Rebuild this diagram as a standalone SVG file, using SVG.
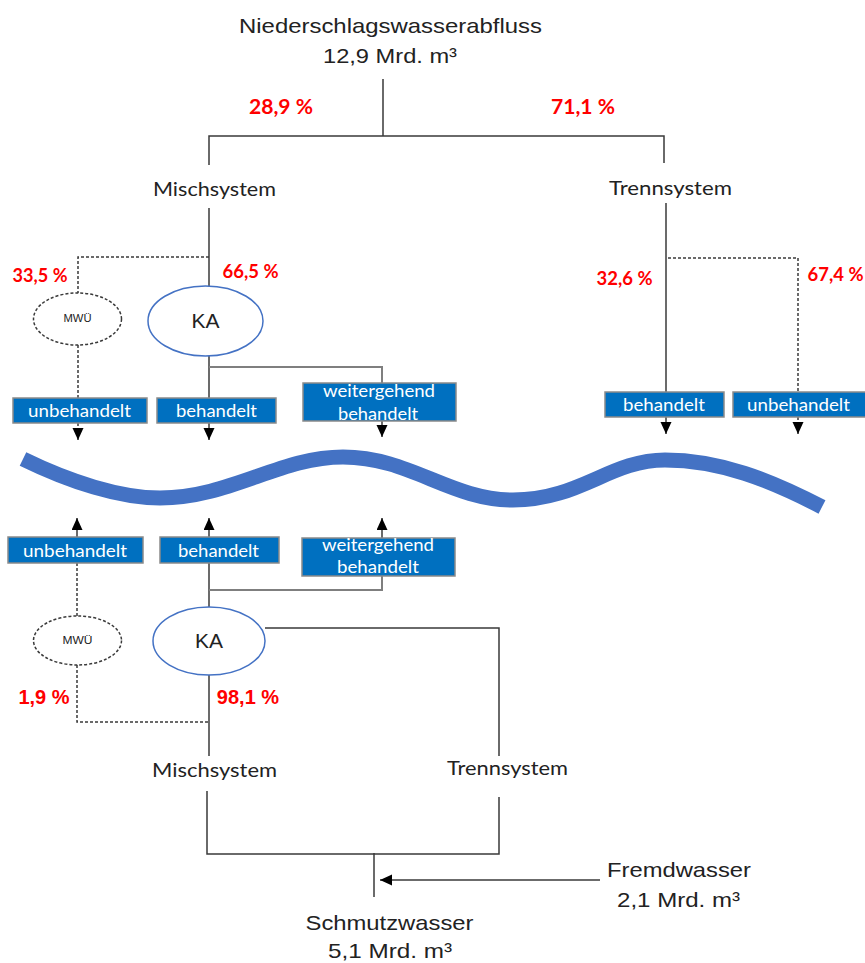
<svg xmlns="http://www.w3.org/2000/svg" width="865" height="963" viewBox="0 0 865 963">
<style>
.ln{stroke:#3a3a3a;stroke-width:1.5;fill:none}
.ds{stroke:#3a3a3a;stroke-width:1.5;fill:none;stroke-dasharray:3 2}
.gr{stroke:#7f7f7f;stroke-width:2;fill:none}
.box{fill:#0070C0;stroke:#8a8a8a;stroke-width:1.5}
.bt{font-family:Lato,"Liberation Sans",sans-serif;font-size:17px;fill:#ffffff;text-anchor:middle}
.ar{font-family:"Liberation Sans",Arial,sans-serif;fill:#222;text-anchor:middle}
.ca{font-family:Lato,"Liberation Sans",sans-serif;fill:#222;text-anchor:middle;font-size:19px}
.pc{font-family:Lato,"Liberation Sans",sans-serif;font-weight:bold;fill:#FF0000;text-anchor:middle}
.pa{font-family:"Liberation Sans",Arial,sans-serif;font-weight:bold;fill:#FF0000;text-anchor:middle;font-size:20px}
</style>
<defs>
<marker id="arr" markerUnits="userSpaceOnUse" markerWidth="13" markerHeight="12" refX="12" refY="5.5" orient="auto">
<path d="M0,0 L12,5.5 L0,11 Z" fill="#000"/>
</marker>
</defs>
<rect width="865" height="963" fill="#ffffff"/>

<path id="river" d="M23,459 C70,482 120,498 160,498 C230,498 280,457 343,457 C410,457 450,500 513,500 C580,500 610,460 665,460 C720,460 770,480 822,507" fill="none" stroke="#4472C4" stroke-width="15"/>

<g id="connectors">
<path class="ln" d="M383,79 V136 M209,165 V136 H664 V163"/>
<path class="ln" d="M209,208 V286"/>
<path class="ds" d="M209,257 H78 V293"/>
<path class="ds" d="M78,345 V398"/>
<path class="ln" d="M209,356 V398"/>
<path class="gr" d="M209,367 H382 V383"/>
<path class="ds" d="M78,423 V430"/>
<path class="ln" d="M78,428 V440" marker-end="url(#arr)"/>
<path class="ln" d="M209,423 V440" marker-end="url(#arr)"/>
<path class="ln" d="M382,421 V437" marker-end="url(#arr)"/>
<path class="ln" d="M666,203 V392"/>
<path class="ds" d="M668,258 H798 V392"/>
<path class="ln" d="M666,417 V434" marker-end="url(#arr)"/>
<path class="ds" d="M798,417 V424"/>
<path class="ln" d="M798,422 V434" marker-end="url(#arr)"/>
<path class="ln" d="M77,537 V518" marker-end="url(#arr)"/>
<path class="ln" d="M209,537 V518" marker-end="url(#arr)"/>
<path class="ln" d="M382,538 V518" marker-end="url(#arr)"/>
<path class="ds" d="M77,563 V616"/>
<path class="ln" d="M209,563 V607"/>
<path class="gr" d="M209,590 H382 V576"/>
<path class="ds" d="M77,665 V722 H209"/>
<path class="ln" d="M209,675 V756"/>
<path class="ln" d="M265,628 H499 V756"/>
<path class="ln" d="M207,791 V854 H499 V797"/>
<path class="ln" d="M374,853 V897"/>
<path class="ln" d="M600,880 H380" marker-end="url(#arr)"/>
</g>

<g id="n-top">
<text class="ar" x="390.5" y="33" font-size="21" textLength="303" lengthAdjust="spacingAndGlyphs">Niederschlagswasserabfluss</text>
<text class="ar" x="390" y="63" font-size="21" textLength="134" lengthAdjust="spacingAndGlyphs">12,9 Mrd. m³</text>
</g>
<g id="p-top">
<text class="pc" x="281" y="114" font-size="21" textLength="64" lengthAdjust="spacingAndGlyphs">28,9 %</text>
<text class="pc" x="583" y="114" font-size="21" textLength="64" lengthAdjust="spacingAndGlyphs">71,1 %</text>
</g>
<g id="n-misch-top"><text class="ca" x="214.5" y="196" textLength="123" lengthAdjust="spacingAndGlyphs">Mischsystem</text></g>
<g id="n-trenn-top"><text class="ca" x="670.5" y="195" textLength="123" lengthAdjust="spacingAndGlyphs">Trennsystem</text></g>

<g id="p-upper">
<text class="pc" x="40" y="282" font-size="18" textLength="55" lengthAdjust="spacingAndGlyphs">33,5 %</text>
<text class="pc" x="250.5" y="278" font-size="18" textLength="56" lengthAdjust="spacingAndGlyphs">66,5 %</text>
<text class="pc" x="624.5" y="285" font-size="18" textLength="56" lengthAdjust="spacingAndGlyphs">32,6 %</text>
<text class="pc" x="835.5" y="281" font-size="18" textLength="56" lengthAdjust="spacingAndGlyphs">67,4 %</text>
</g>

<g id="n-mwu-top">
<ellipse cx="77.5" cy="319" rx="44" ry="26" fill="#fff" stroke="#3a3a3a" stroke-width="1.5" stroke-dasharray="3 2"/>
<text class="ar" x="77.5" y="322" font-size="10" textLength="28" lengthAdjust="spacingAndGlyphs">MWÜ</text>
</g>
<g id="n-ka-top">
<ellipse cx="205.5" cy="321" rx="57.5" ry="35" fill="#fff" stroke="#4472C4" stroke-width="1.5"/>
<text class="ar" x="205.5" y="328" font-size="21">KA</text>
</g>

<g id="b-unb-ul"><rect class="box" x="13" y="398" width="134" height="25"/><text class="bt" x="79.5" y="417" textLength="103" lengthAdjust="spacingAndGlyphs">unbehandelt</text></g>
<g id="b-beh-ul"><rect class="box" x="157" y="398" width="119" height="25"/><text class="bt" x="216.5" y="417" textLength="81" lengthAdjust="spacingAndGlyphs">behandelt</text></g>
<g id="b-wb-ul"><rect class="box" x="303" y="383" width="153" height="38"/><text class="bt" x="379" y="397" textLength="112" lengthAdjust="spacingAndGlyphs">weitergehend</text><text class="bt" x="378" y="420" textLength="80" lengthAdjust="spacingAndGlyphs">behandelt</text></g>
<g id="b-beh-ur"><rect class="box" x="605" y="392" width="119" height="25"/><text class="bt" x="664" y="411" textLength="82" lengthAdjust="spacingAndGlyphs">behandelt</text></g>
<g id="b-unb-ur"><rect class="box" x="733" y="392" width="134" height="25"/><text class="bt" x="798.5" y="411" textLength="103" lengthAdjust="spacingAndGlyphs">unbehandelt</text></g>

<g id="b-unb-ll"><rect class="box" x="8" y="537" width="135" height="26"/><text class="bt" x="75" y="557" textLength="104" lengthAdjust="spacingAndGlyphs">unbehandelt</text></g>
<g id="b-beh-ll"><rect class="box" x="160" y="537" width="119" height="26"/><text class="bt" x="218.5" y="557" textLength="81" lengthAdjust="spacingAndGlyphs">behandelt</text></g>
<g id="b-wb-ll"><rect class="box" x="302" y="538" width="153" height="38"/><text class="bt" x="378" y="551" textLength="112" lengthAdjust="spacingAndGlyphs">weitergehend</text><text class="bt" x="378" y="573" textLength="82" lengthAdjust="spacingAndGlyphs">behandelt</text></g>

<g id="n-mwu-bot">
<ellipse cx="77.5" cy="640.5" rx="44" ry="24.5" fill="#fff" stroke="#3a3a3a" stroke-width="1.5" stroke-dasharray="3 2"/>
<text class="ar" x="77.5" y="644" font-size="10" textLength="30" lengthAdjust="spacingAndGlyphs">MWÜ</text>
</g>
<g id="n-ka-bot">
<ellipse cx="209" cy="641" rx="56" ry="34" fill="#fff" stroke="#4472C4" stroke-width="1.5"/>
<text class="ar" x="209" y="648" font-size="21">KA</text>
</g>

<g id="p-lower">
<text class="pa" x="44" y="704">1,9 %</text>
<text class="pa" x="248" y="704">98,1 %</text>
</g>

<g id="n-misch-bot"><text class="ca" x="214.5" y="777" textLength="125" lengthAdjust="spacingAndGlyphs">Mischsystem</text></g>
<g id="n-trenn-bot"><text class="ca" x="507.5" y="775" textLength="121" lengthAdjust="spacingAndGlyphs">Trennsystem</text></g>

<g id="n-fremd">
<text class="ar" x="679" y="877" font-size="21" textLength="144" lengthAdjust="spacingAndGlyphs">Fremdwasser</text>
<text class="ar" x="678.5" y="907" font-size="21" textLength="123" lengthAdjust="spacingAndGlyphs">2,1 Mrd. m³</text>
</g>
<g id="n-schmutz">
<text class="ar" x="389.5" y="930" font-size="21" textLength="168" lengthAdjust="spacingAndGlyphs">Schmutzwasser</text>
<text class="ar" x="390" y="958" font-size="21" textLength="124" lengthAdjust="spacingAndGlyphs">5,1 Mrd. m³</text>
</g>
</svg>
